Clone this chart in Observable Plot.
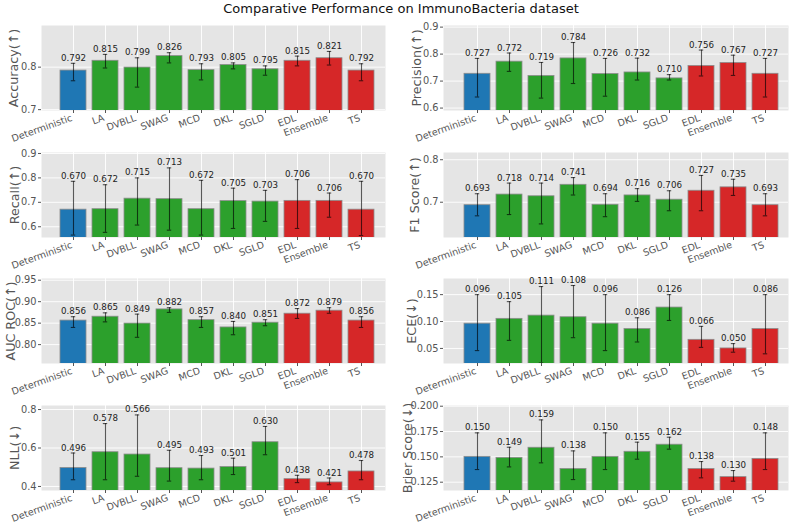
<!DOCTYPE html>
<html><head><meta charset="utf-8">
<script src="https://cdn.jsdelivr.net/npm/d3@7"></script>
<script src="https://cdn.jsdelivr.net/npm/@observablehq/plot@0.6"></script>
<style>
body{margin:0;background:#fff;font-family:"DejaVu Sans",sans-serif;}
#fig{position:relative;width:800px;height:524px;overflow:hidden;background:#fff;}
#title{position:absolute;left:0;top:1px;width:802px;text-align:center;font-size:13px;line-height:16px;color:#111;}
.panel{position:absolute;}
.panel svg{overflow:visible;}
</style></head><body>
<div id="fig"><div id="title">Comparative Performance on ImmunoBacteria dataset</div></div>
<script>
const methods = ["Deterministic","LA","DVBLL","SWAG","MCD","DKL","SGLD","EDL","Ensemble","TS"];
const methodColors = ["#1f77b4","#2ca02c","#2ca02c","#2ca02c","#2ca02c","#2ca02c","#2ca02c","#d62728","#d62728","#d62728"];

const accuracy   = [0.792,0.815,0.799,0.826,0.793,0.805,0.795,0.815,0.821,0.792];
const accuracyLo = [0.768,0.798,0.753,0.810,0.770,0.796,0.781,0.803,0.805,0.768];
const accuracyHi = [0.809,0.830,0.822,0.834,0.808,0.810,0.803,0.826,0.837,0.808];

const precision   = [0.727,0.772,0.719,0.784,0.726,0.732,0.710,0.756,0.767,0.727];
const precisionLo = [0.641,0.736,0.637,0.691,0.644,0.704,0.704,0.719,0.721,0.641];
const precisionHi = [0.784,0.804,0.769,0.843,0.784,0.785,0.724,0.815,0.796,0.784];

const recall   = [0.670,0.672,0.715,0.713,0.672,0.705,0.703,0.706,0.706,0.670];
const recallLo = [0.566,0.577,0.607,0.586,0.566,0.593,0.622,0.593,0.639,0.564];
const recallHi = [0.786,0.772,0.800,0.841,0.790,0.758,0.749,0.793,0.738,0.786];

const f1   = [0.693,0.718,0.714,0.741,0.694,0.716,0.706,0.727,0.735,0.693];
const f1Lo = [0.668,0.671,0.649,0.717,0.666,0.702,0.680,0.680,0.716,0.668];
const f1Hi = [0.720,0.745,0.745,0.758,0.720,0.732,0.727,0.763,0.754,0.720];

const auc   = [0.856,0.865,0.849,0.882,0.857,0.840,0.851,0.872,0.879,0.856];
const aucLo = [0.840,0.853,0.817,0.875,0.840,0.823,0.844,0.861,0.873,0.840];
const aucHi = [0.865,0.874,0.871,0.886,0.865,0.854,0.858,0.884,0.886,0.865];

const ece   = [0.096,0.105,0.111,0.108,0.096,0.086,0.126,0.066,0.050,0.086];
const eceLo = [0.046,0.065,0.023,0.070,0.046,0.062,0.102,0.052,0.043,0.040];
const eceHi = [0.150,0.137,0.165,0.167,0.150,0.107,0.150,0.091,0.059,0.150];

const nll   = [0.496,0.578,0.566,0.495,0.493,0.501,0.630,0.438,0.421,0.478];
const nllLo = [0.435,0.435,0.453,0.428,0.435,0.462,0.565,0.420,0.409,0.435];
const nllHi = [0.574,0.727,0.772,0.588,0.561,0.547,0.712,0.458,0.444,0.535];

const brier   = [0.150,0.149,0.159,0.138,0.150,0.155,0.162,0.138,0.130,0.148];
const brierLo = [0.1375,0.1401,0.1441,0.1276,0.1375,0.1477,0.1576,0.1293,0.1260,0.1375];
const brierHi = [0.1737,0.1595,0.1865,0.1559,0.1737,0.1645,0.1694,0.1454,0.1365,0.1737];

const panels = [
  {label:"Accuracy(↑)", values:accuracy, lo:accuracyLo, hi:accuracyHi, domain:[0.698,0.898], ticks:[0.7,0.8], fmt:".1f", col:0, row:0, labelX:13},
  {label:"Precision(↑)", values:precision, lo:precisionLo, hi:precisionHi, domain:[0.591,0.906], ticks:[0.6,0.7,0.8,0.9], fmt:".1f", col:1, row:0, labelX:16},
  {label:"Recall(↑)", values:recall, lo:recallLo, hi:recallHi, domain:[0.556,0.904], ticks:[0.6,0.7,0.8,0.9], fmt:".1f", col:0, row:1, labelX:14},
  {label:"F1 Score(↑)", values:f1, lo:f1Lo, hi:f1Hi, domain:[0.617,0.817], ticks:[0.7,0.8], fmt:".1f", col:1, row:1, labelX:14},
  {label:"AUC ROC(↑)", values:auc, lo:aucLo, hi:aucHi, domain:[0.756,0.954], ticks:[0.80,0.85,0.90,0.95], fmt:".2f", col:0, row:2, labelX:10},
  {label:"ECE(↓)", values:ece, lo:eceLo, hi:eceHi, domain:[0.022,0.18], ticks:[0.05,0.10,0.15], fmt:".2f", col:1, row:2, labelX:11},
  {label:"NLL(↓)", values:nll, lo:nllLo, hi:nllHi, domain:[0.379,0.821], ticks:[0.4,0.6,0.8], fmt:".1f", col:0, row:3, labelX:14},
  {label:"Brier Score(↓)", values:brier, lo:brierLo, hi:brierHi, domain:[0.1168,0.2007], ticks:[0.125,0.150,0.175,0.200], fmt:".3f", col:1, row:3, labelX:7}
];

const fig = document.getElementById("fig");
for (const p of panels) {
  const data = methods.map((m,i)=>({m, v:p.values[i], lo:p.lo[i], hi:p.hi[i], c:methodColors[i]}));
  const ml = p.col===0 ? 41 : 43, mr = p.col===0 ? 15 : 12;
  const mt = 22, mb = 45, ph = 85;
  const plotTop = 25 + p.row*126.67;
  const chart = Plot.plot({
    width: 400, height: mt+ph+mb,
    marginTop: mt, marginBottom: mb, marginLeft: ml, marginRight: mr,
    style: {fontFamily:"DejaVu Sans", background:"transparent", overflow:"visible"},
    x: {type:"band", domain:methods, paddingInner:0.19, paddingOuter:0.095,
        insetLeft: p.col===0 ? 11.8 : 13.9, insetRight: 3.2, axis:null},
    y: {domain:p.domain, axis:null},
    color: {type:"identity"},
    marks: [
      Plot.frame({fill:"#e5e5e5", stroke:null}),
      Plot.gridY(p.ticks, {stroke:"white", strokeOpacity:1, strokeWidth:0.9}),
      Plot.gridX({stroke:"white", strokeOpacity:1, strokeWidth:0.9}),
      Plot.axisY(p.ticks, {tickSize:3, tickPadding:2, tickFormat:p.fmt, fontSize:9.8, color:"#555", label:null}),
      Plot.axisX({tickSize:3, tickFormat:()=>"", label:null, color:"#555"}),
      Plot.barY(data, {x:"m", y:"v", fill:"c", stroke:"#8c8c8c", strokeWidth:0.8, clip:true}),
      Plot.ruleX(data, {x:"m", y1:"lo", y2:"hi", stroke:"#000", strokeOpacity:0.65, strokeWidth:1.1, clip:true}),
      Plot.tickY(data, {x:"m", y:"hi", insetLeft:10.8, insetRight:10.8, stroke:"#000", strokeOpacity:0.65, strokeWidth:1.1}),
      Plot.tickY(data, {x:"m", y:"lo", insetLeft:10.8, insetRight:10.8, stroke:"#000", strokeOpacity:0.65, strokeWidth:1.1, clip:true}),
      Plot.text(data, {x:"m", y:"hi", text:d=>d.v.toFixed(3), lineAnchor:"bottom", dy:-2.5, fontSize:8.7, fill:"#222"}),
      Plot.text(methods, {x:d=>d, text:d=>d, frameAnchor:"bottom", textAnchor:"end", lineAnchor:"top", rotate:-20, dy:3.5, dx:-3, fontSize:9.5, fill:"#555"}),
      Plot.text([p.label], {text:d=>d, frameAnchor:"left", rotate:-90, dx:p.labelX-ml, textAnchor:"middle", lineAnchor:"middle", fontSize:12.7, fill:"#555"})
    ]
  });
  const div = document.createElement("div");
  div.className = "panel";
  div.style.left = (p.col*400) + "px";
  div.style.top = (plotTop - mt) + "px";
  div.appendChild(chart);
  fig.appendChild(div);
}
</script>
</body></html>
